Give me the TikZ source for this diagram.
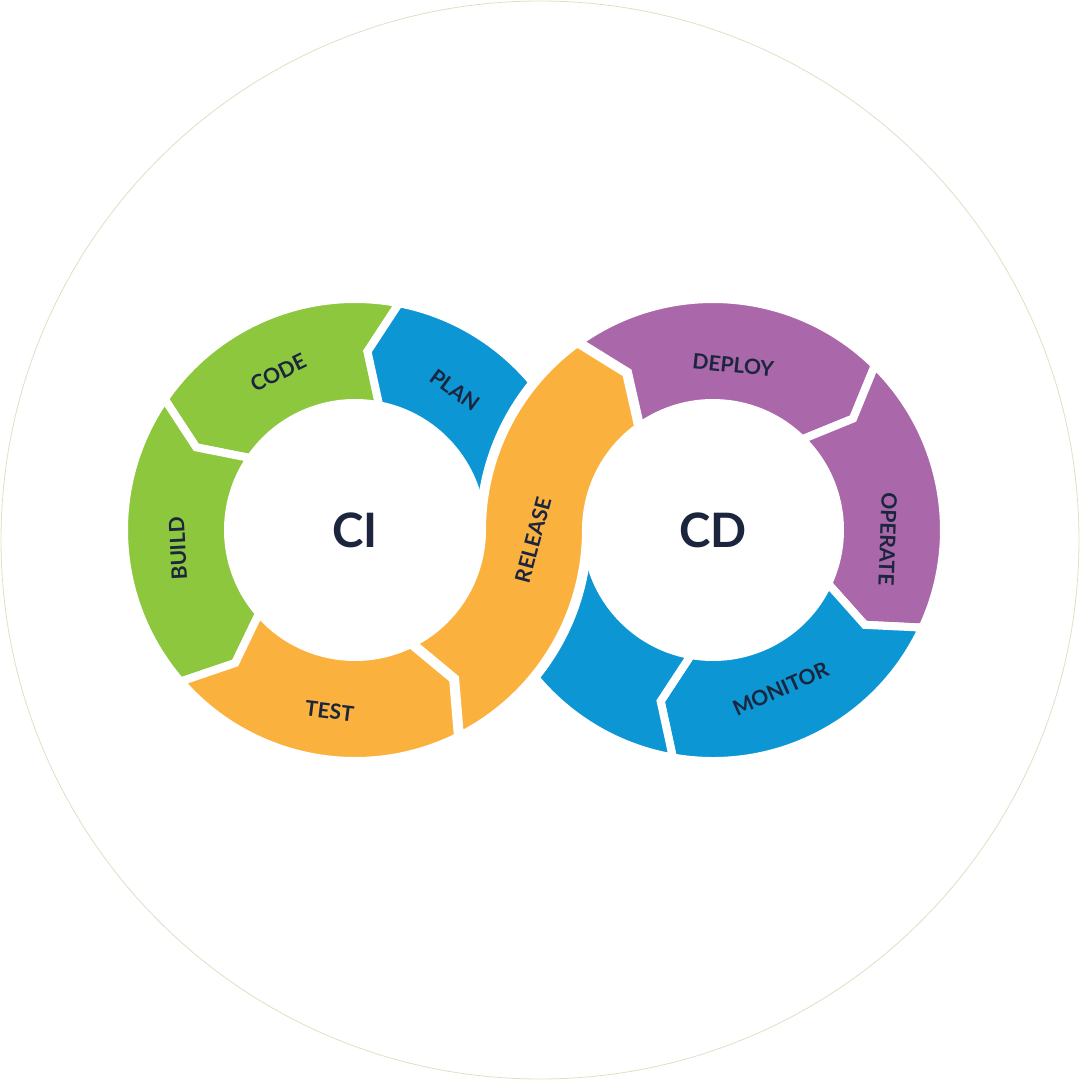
\documentclass[tikz,border=0pt]{standalone}
\usepackage{fontspec}
\setmainfont{Lato}
\usetikzlibrary{positioning}

\definecolor{cigreen}{RGB}{141,199,62}
\definecolor{loopblue}{RGB}{13,150,212}
\definecolor{looporange}{RGB}{251,177,62}
\definecolor{cdpurple}{RGB}{170,104,170}
\definecolor{labelink}{RGB}{27,38,62}
\definecolor{rimline}{RGB}{226,221,196}

\newcommand{\Rout}{231}
\newcommand{\Rin}{127}
\newcommand{\Rmid}{179}
% ring piece: centre, start angle, end angle, tip offset, style
\newcommand{\ringpart}[5]{%
  \path[#5] ([shift={(#1)}]#2:\Rout) -- ([shift={(#1)}]#2+#4:\Rmid) -- ([shift={(#1)}]#2:\Rin)
    arc[start angle=#2, end angle=#3, radius=\Rin]
    -- ([shift={(#1)}]#3+#4:\Rmid) -- ([shift={(#1)}]#3:\Rout)
    arc[start angle=#3, end angle=#2, radius=\Rout] -- cycle;}

\tikzstyle{piece} = [draw=white, line width=0.8mm, line join=miter]
\tikzstyle{gapline} = [draw=white, line width=1.2mm, line join=miter]
\tikzstyle{steplabel} = [text=labelink, font=\bfseries\fontsize{6}{7}\selectfont, inner sep=0pt]
\tikzstyle{hublabel} = [text=labelink, font=\bfseries\fontsize{13.5}{15}\selectfont, inner sep=0pt]

\begin{document}
\begin{tikzpicture}[x=0.1mm, y=0.1mm]
    \useasboundingbox (0,0) rectangle (1080,1080);
    \draw[rimline, line width=0.08mm] (540,540) circle[radius=539];

    \coordinate (ci) at (355,550);
    \coordinate (cd) at (713,550);

    % CI ring
    \ringpart{ci}{79}{145.5}{7}{piece, fill=cigreen}
    \ringpart{ci}{145.5}{221}{7}{piece, fill=cigreen}
    \ringpart{ci}{221}{297}{7}{piece, fill=looporange}
    % CD ring
    \ringpart{cd}{126}{45.5}{-7}{piece, fill=cdpurple}
    \ringpart{cd}{45.5}{-25}{-7}{piece, fill=cdpurple}
    \ringpart{cd}{-25}{-100}{-7}{piece, fill=loopblue}

    % blue band from CD back to PLAN
    \path[piece, fill=loopblue] ([shift={(cd)}]-100:\Rout) -- ([shift={(cd)}]-107:\Rmid) -- ([shift={(cd)}]-100:\Rin)
        arc[start angle=-100, end angle=-180, radius=\Rin]
        arc[start angle=0, end angle=79, radius=\Rout]
        -- ([shift={(ci)}]86:\Rmid) -- ([shift={(ci)}]79:\Rin)
        arc[start angle=79, end angle=0, radius=\Rin]
        arc[start angle=180, end angle=260, radius=\Rout] -- cycle;

    % orange release band on top
    \path[gapline] ([shift={(ci)}]297:\Rout) -- ([shift={(ci)}]304:\Rmid) -- ([shift={(ci)}]297:\Rin)
        arc[start angle=297, end angle=360, radius=\Rin]
        arc[start angle=180, end angle=126, radius=\Rout]
        -- ([shift={(cd)}]119:\Rmid) -- ([shift={(cd)}]126:\Rin)
        arc[start angle=126, end angle=180, radius=\Rin]
        arc[start angle=0, end angle=-63, radius=\Rout] -- cycle;
    \path[piece, fill=looporange] ([shift={(ci)}]297:\Rout) -- ([shift={(ci)}]304:\Rmid) -- ([shift={(ci)}]297:\Rin)
        arc[start angle=297, end angle=360, radius=\Rin]
        arc[start angle=180, end angle=126, radius=\Rout]
        -- ([shift={(cd)}]119:\Rmid) -- ([shift={(cd)}]126:\Rin)
        arc[start angle=126, end angle=180, radius=\Rin]
        arc[start angle=0, end angle=-63, radius=\Rout] -- cycle;

    % labels
    \node[hublabel] (cilabel) at (ci) {CI};
    \node[hublabel] (cdlabel) at (cd) {CD};
    \node[steplabel, rotate=26] (code) at ([shift={(ci)}]116:175) {CODE};
    \node[steplabel, rotate=-36] (plan) at ([shift={(ci)}]54.5:172) {PLAN};
    \node[steplabel, rotate=93] (build) at ([shift={(ci)}]186:178) {BUILD};
    \node[steplabel, rotate=-7] (test) at ([shift={(ci)}]262:183) {TEST};
    \node[steplabel, rotate=75] (release) at (533,540) {RELEASE};
    \node[steplabel, rotate=-6] (deploy) at ([shift={(cd)}]83:166) {DEPLOY};
    \node[steplabel, rotate=-92] (operate) at ([shift={(cd)}]-3:175) {OPERATE};
    \node[steplabel, rotate=24] (monitor) at ([shift={(cd)}]-67:173) {MONITOR};
\end{tikzpicture}
\end{document}
